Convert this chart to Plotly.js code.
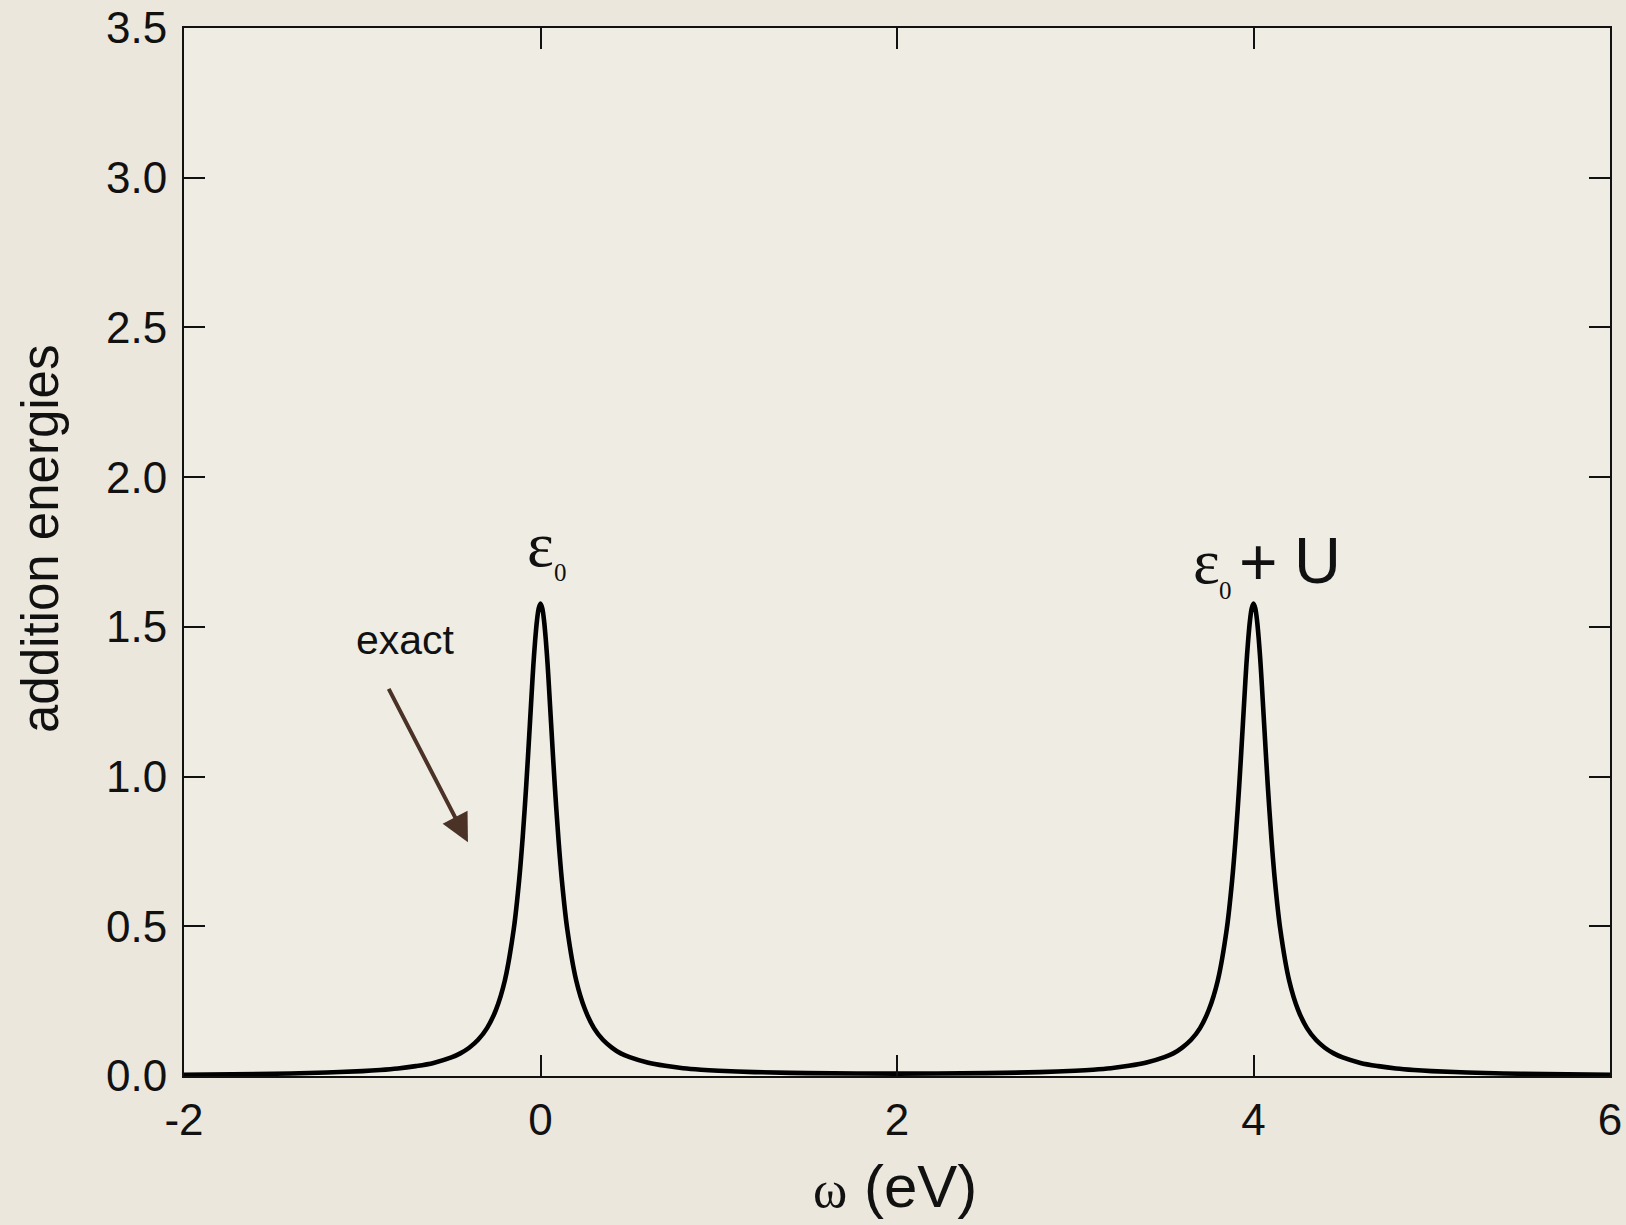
<!DOCTYPE html>
<html>
<head>
<meta charset="utf-8">
<script src="https://cdn.plot.ly/plotly-3.0.1.min.js"></script>
<style>
  html, body { margin: 0; padding: 0; background: #ebe7dc; }
  #chart { width: 1626px; height: 1225px; }
</style>
</head>
<body>
<div id="chart"></div>
<script>
// omega (eV) sample points
const omega = [
  -2, -1.5, -1.2, -1.0, -0.9, -0.8, -0.7, -0.6, -0.5, -0.45, -0.4, -0.35, -0.3, -0.25, -0.2, -0.15, -0.12, -0.1, -0.08, -0.06, -0.05, -0.04, -0.03, -0.02, -0.01,
  0,
  0.01, 0.02, 0.03, 0.04, 0.05, 0.06, 0.08, 0.1, 0.12, 0.15, 0.2, 0.25, 0.3, 0.35, 0.4, 0.45, 0.5, 0.6, 0.7, 0.8, 0.9, 1.0, 1.2, 1.5,
  2.0,
  2.5, 2.8, 3.0, 3.1, 3.2, 3.3, 3.4, 3.5, 3.55, 3.6, 3.65, 3.7, 3.75, 3.8, 3.85, 3.88, 3.9, 3.92, 3.94, 3.95, 3.96, 3.97, 3.98, 3.99,
  4.0,
  4.01, 4.02, 4.03, 4.04, 4.05, 4.06, 4.08, 4.1, 4.12, 4.15, 4.2, 4.25, 4.3, 4.35, 4.4, 4.45, 4.5, 4.6, 4.7, 4.8, 4.9, 5.0, 5.2, 5.5,
  6.0
];
// addition energies (spectral weight)
const addition = [
  0.004, 0.0075, 0.0116, 0.0164, 0.020, 0.0251, 0.033, 0.0437, 0.0619, 0.0755, 0.0944, 0.121, 0.160, 0.221, 0.319, 0.491, 0.653, 0.797, 0.971, 1.171, 1.274, 1.373, 1.455, 1.520, 1.562,
  1.578,
  1.562, 1.520, 1.455, 1.373, 1.274, 1.171, 0.971, 0.797, 0.653, 0.491, 0.320, 0.222, 0.160, 0.121, 0.095, 0.0755, 0.063, 0.045, 0.034, 0.026, 0.021, 0.0176, 0.0130, 0.0095,
  0.008,
  0.0095, 0.0130, 0.0176, 0.021, 0.026, 0.034, 0.045, 0.063, 0.0755, 0.095, 0.121, 0.160, 0.222, 0.320, 0.491, 0.653, 0.797, 0.971, 1.171, 1.274, 1.373, 1.455, 1.520, 1.562,
  1.578,
  1.562, 1.520, 1.455, 1.373, 1.274, 1.171, 0.971, 0.797, 0.653, 0.491, 0.319, 0.221, 0.160, 0.121, 0.0944, 0.0755, 0.0619, 0.0437, 0.033, 0.0251, 0.020, 0.0164, 0.0116, 0.0075,
  0.004
];
const xTicks = [-2, 0, 2, 4, 6];
const xTickText = ['-2', '0', '2', '4', '6'];
const yTicks = [0, 0.5, 1.0, 1.5, 2.0, 2.5, 3.0, 3.5];
const yTickText = ['0.0', '0.5', '1.0', '1.5', '2.0', '2.5', '3.0', '3.5'];

const W = 1626, H = 1225;
const M = {l: 184, r: 16, t: 28, b: 149};
const PW = W - M.l - M.r, PH = H - M.t - M.b;
const px = x => (x - M.l) / PW;
const py = y => (H - M.b - y) / PH;

const sans = 'Liberation Sans, Arial, Helvetica, sans-serif';
const serif = 'Liberation Serif, Times New Roman, serif';

const trace = {
  x: omega, y: addition, type: 'scatter', mode: 'lines',
  line: {color: '#000000', width: 4.6, shape: 'spline', smoothing: 0.9},
  hoverinfo: 'skip', cliponaxis: true
};

const axisCommon = {
  showgrid: false, zeroline: false, showline: true, linecolor: '#111', linewidth: 2,
  mirror: 'ticks', ticks: 'inside', ticklen: 21, tickwidth: 2, tickcolor: '#111',
  tickfont: {family: sans, size: 44, color: '#111'}
};

const annotations = [
  {xref: 'paper', yref: 'paper', x: px(40), y: py(539), text: 'addition energies', textangle: -90,
   showarrow: false, xanchor: 'center', yanchor: 'middle', font: {family: sans, size: 51, color: '#111'}},
  {xref: 'paper', yref: 'paper', x: px(895), y: py(1186),
   text: '<span style="font-family:Liberation Serif;font-size:52px">ω</span> (eV)',
   showarrow: false, xanchor: 'center', yanchor: 'middle', font: {family: sans, size: 60, color: '#111'}},
  {xref: 'paper', yref: 'paper', x: px(540), y: py(544), text: 'ε', showarrow: false,
   xanchor: 'center', yanchor: 'middle', font: {family: serif, size: 64, color: '#111'}},
  {xref: 'paper', yref: 'paper', x: px(560), y: py(572), text: '0', showarrow: false,
   xanchor: 'center', yanchor: 'middle', font: {family: serif, size: 25, color: '#111'}},
  {xref: 'paper', yref: 'paper', x: px(1206), y: py(561), text: 'ε', showarrow: false,
   xanchor: 'center', yanchor: 'middle', font: {family: serif, size: 64, color: '#111'}},
  {xref: 'paper', yref: 'paper', x: px(1225), y: py(590), text: '0', showarrow: false,
   xanchor: 'center', yanchor: 'middle', font: {family: serif, size: 25, color: '#111'}},
  {xref: 'paper', yref: 'paper', x: px(1258), y: py(562), text: '+', showarrow: false,
   xanchor: 'center', yanchor: 'middle', font: {family: sans, size: 66, color: '#111'}},
  {xref: 'paper', yref: 'paper', x: px(1317), y: py(560), text: 'U', showarrow: false,
   xanchor: 'center', yanchor: 'middle', font: {family: sans, size: 65, color: '#111'}},
  {xref: 'paper', yref: 'paper', x: px(405), y: py(640), text: 'exact', showarrow: false,
   xanchor: 'center', yanchor: 'middle', font: {family: sans, size: 41, color: '#111'}},
  {xref: 'x', yref: 'y', x: -0.407, y: 0.781, axref: 'x', ayref: 'y', ax: -0.856, ay: 1.298,
   text: '', showarrow: true, arrowhead: 2, arrowsize: 1.4, arrowwidth: 4, arrowcolor: '#4b3226', standoff: 0}
];

const layout = {
  width: W, height: H,
  margin: M,
  paper_bgcolor: '#ebe7dc',
  plot_bgcolor: '#efece3',
  showlegend: false,
  xaxis: Object.assign({}, axisCommon, {
    range: [-2, 6], tickvals: xTicks, ticktext: xTickText, ticklabelstandoff: 4
  }),
  yaxis: Object.assign({}, axisCommon, {
    range: [0, 3.5], tickvals: yTicks, ticktext: yTickText, ticklabelstandoff: 6
  }),
  annotations: annotations
};

Plotly.newPlot('chart', [trace], layout, {staticPlot: true, displayModeBar: false});
</script>
</body>
</html>
